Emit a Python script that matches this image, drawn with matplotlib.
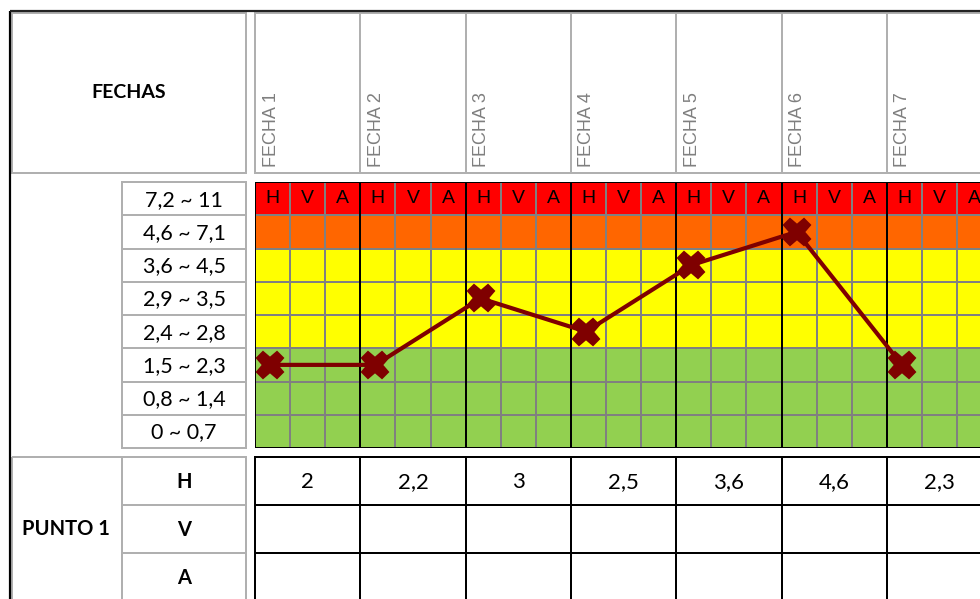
import matplotlib
matplotlib.use("Agg")
import matplotlib.pyplot as plt
from matplotlib.patches import Rectangle

# ---------------- data ----------------
fechas = ["FECHA 1", "FECHA 2", "FECHA 3", "FECHA 4", "FECHA 5", "FECHA 6", "FECHA 7"]
range_labels = ["7,2 ~ 11", "4,6 ~ 7,1", "3,6 ~ 4,5", "2,9 ~ 3,5",
                "2,4 ~ 2,8", "1,5 ~ 2,3", "0,8 ~ 1,4", "0 ~ 0,7"]          # top -> bottom
band_low = [0, 0.8, 1.5, 2.4, 2.9, 3.6, 4.6, 7.2]                          # bottom -> top
band_high = [0.7, 1.4, 2.3, 2.8, 3.5, 4.5, 7.1, 11]
band_colors = ["#92D050", "#92D050", "#92D050", "#FFFF00", "#FFFF00",
               "#FFFF00", "#FF6600", "#FF0000"]                            # bottom -> top
sub_cols = ["H", "V", "A"]
h_values = [2, 2.2, 3, 2.5, 3.6, 4.6, 2.3]
h_labels = ["2", "2,2", "3", "2,5", "3,6", "4,6", "2,3"]
punto = "PUNTO 1"
header_title = "FECHAS"

# ---------------- layout (pixels) ----------------
W, H = 980, 599
grid_x0 = 255.0
col_w = 105.3
grid_top, grid_bot = 182.0, 448.0
row_h = (grid_bot - grid_top) / len(range_labels)
low_top = 457.0
low_row_h = 48.0
gray = "#B0B0B0"
lw_px = 2 * 72 / 100.0   # 2 px in points

body_font = ["Lato", "DejaVu Sans"]
arial = ["Liberation Sans", "DejaVu Sans"]

fig = plt.figure(figsize=(W / 100, H / 100), dpi=100)
ax = fig.add_axes([0, 0, 1, 1])
ax.set_xlim(0, W)
ax.set_ylim(H, 0)
ax.axis("off")

def cell(x0, y0, x1, y1, color, lw=lw_px, z=2):
    ax.add_patch(Rectangle((x0, y0), x1 - x0, y1 - y0, fill=False,
                           edgecolor=color, linewidth=lw, zorder=z))

# outer frame
ax.plot([9.5, 9.5], [10.5, H + 5], color="black", lw=lw_px * 1.1, zorder=5, solid_capstyle="butt")
ax.plot([9.5, W + 5], [10.5, 10.5], color="#222222", lw=lw_px * 1.1, zorder=5, solid_capstyle="butt")

# FECHAS header cell
cell(11.5, 12.5, 246, 173, gray)
ax.text((11.5 + 246) / 2, 93, header_title, ha="center", va="center",
        fontsize=14, fontweight="bold", family=body_font)

# fecha header cells
for i, f in enumerate(fechas):
    x0 = grid_x0 + i * col_w
    cell(x0, 12.5, x0 + col_w, 173, gray)
    ax.text(x0 + 16, 167, f, rotation=90, ha="center", va="bottom",
            fontsize=13, color="#7F7F7F", family=arial)

# range label cells
for k, lab in enumerate(range_labels):
    y0 = grid_top + k * row_h
    cell(122, y0, 246, y0 + row_h, gray)
    ax.text(184, y0 + row_h / 2 + 1, lab, ha="center", va="center",
            fontsize=15.5, family=body_font)

# lower table labels
cell(11.5, low_top, 122, H + 10, gray)
ax.text(66, low_top + 1.5 * low_row_h, punto, ha="center", va="center",
        fontsize=14.5, fontweight="bold", family=body_font)
for r, s in enumerate(sub_cols):
    y0 = low_top + r * low_row_h
    cell(122, y0, 246, y0 + low_row_h, gray)
    ax.text(184, y0 + low_row_h / 2 + 1, s, ha="center", va="center",
            fontsize=14.5, fontweight="bold", family=body_font)

# lower table data cells
for i in range(len(fechas)):
    x0 = grid_x0 + i * col_w
    for r in range(len(sub_cols)):
        y0 = low_top + r * low_row_h
        cell(x0, y0, x0 + col_w, y0 + low_row_h, "black", z=3)
    ax.text(x0 + col_w / 2, low_top + low_row_h / 2 + 1, h_labels[i],
            ha="center", va="center", fontsize=16, family=body_font)

# ---------------- colour grid axes ----------------
n_sub = len(fechas) * len(sub_cols)
gx = fig.add_axes([grid_x0 / W, 1 - grid_bot / H,
                   n_sub * (col_w / 3) / W, (grid_bot - grid_top) / H])
gx.set_xlim(0, n_sub)
gx.set_ylim(0, len(band_colors))
gx.axis("off")
for k, c in enumerate(band_colors):
    gx.axhspan(k, k + 1, color=c, zorder=0, lw=0)
for j in range(n_sub + 1):
    thick = j % 3 == 0
    gx.axvline(j, color="black" if thick else "#808080",
               lw=lw_px, zorder=2 if thick else 1)
for k in range(len(band_colors) + 1):
    edge = k in (0, len(band_colors))
    gx.axhline(k, color="black" if edge else "#808080", lw=lw_px, zorder=2 if edge else 1)
top = len(band_colors) - 1
for j in range(n_sub):
    gx.text(j + 0.5, top + 0.5, sub_cols[j % 3], ha="center", va="center",
            fontsize=14, family=arial, zorder=3, clip_on=False)

def band_index(v):
    for k, (lo, hi) in enumerate(zip(band_low, band_high)):
        if lo <= v <= hi:
            return k
    return 0

xs = [i * 3 + 0.43 for i in range(len(h_values))]
ys = [band_index(v) + 0.5 for v in h_values]
gx.plot(xs, ys, color="#7F0000", lw=3, marker="X", markersize=19, markeredgewidth=1.5,
        markerfacecolor="#7F0000", markeredgecolor="#7F0000", zorder=5, clip_on=False)

fig.savefig("out.png", dpi=100)
